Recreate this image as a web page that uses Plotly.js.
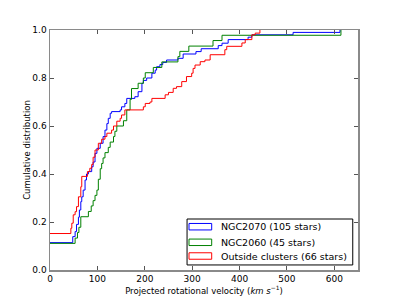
<!DOCTYPE html>
<html>
<head>
<meta charset="utf-8">
<script src="https://cdn.plot.ly/plotly-3.0.1.min.js"></script>
<style>
  body { margin: 0; background: #fff; }
  #chart { width: 400px; height: 300px; }
</style>
</head>
<body>
<div id="chart"></div>
<script>
// step points of the cumulative distributions: velocity (km/s) where each level starts
var ngc2070V = [0, 48, 53, 56, 60, 62, 65, 67, 70, 74, 77, 81, 88, 91, 95, 99, 106, 112, 116, 120, 123, 127, 130,
  148, 151, 158, 162, 179, 186, 194, 197, 204, 215, 222, 225, 232, 238, 246, 270, 281, 308, 319, 355, 363, 376,
  418, 426, 513, 612];
var ngc2070Cdf = [0.114, 0.139, 0.16, 0.19, 0.22, 0.25, 0.285, 0.305, 0.333, 0.375, 0.40, 0.41, 0.43, 0.45, 0.486,
  0.507, 0.528, 0.556, 0.583, 0.61, 0.632, 0.653, 0.66, 0.667, 0.68, 0.694, 0.715, 0.722, 0.743, 0.778, 0.79, 0.80,
  0.82, 0.833, 0.847, 0.856, 0.865, 0.875, 0.882, 0.90, 0.91, 0.922, 0.935, 0.945, 0.96, 0.97, 0.98, 0.99, 1.0];

var ngc2060V = [0, 53, 58, 61, 65, 81, 87, 91, 95, 99, 102, 106, 109, 112, 116, 123, 127, 134, 137, 141, 155, 162,
  169, 172, 186, 197, 201, 218, 236, 270, 274, 293, 344, 363, 614];
var ngc2060Cdf = [0.111, 0.133, 0.156, 0.178, 0.222, 0.244, 0.267, 0.289, 0.311, 0.333, 0.378, 0.422, 0.444, 0.467,
  0.489, 0.511, 0.533, 0.556, 0.578, 0.60, 0.622, 0.667, 0.711, 0.756, 0.778, 0.80, 0.822, 0.844, 0.867, 0.889,
  0.911, 0.933, 0.956, 0.978, 1.0];

var outsideV = [0, 44, 46, 49, 53, 56, 60, 65, 67, 79, 84, 88, 91, 95, 102, 109, 116, 120, 130, 134, 141, 148, 151,
  158, 197, 201, 211, 215, 243, 250, 260, 267, 278, 288, 299, 302, 306, 317, 327, 338, 369, 373, 405, 412, 426,
  433, 443];
var outsideCdf = [0.152, 0.174, 0.195, 0.23, 0.243, 0.264, 0.305, 0.347, 0.39, 0.41, 0.424, 0.44, 0.47, 0.50, 0.528,
  0.545, 0.556, 0.57, 0.583, 0.60, 0.62, 0.632, 0.646, 0.667, 0.68, 0.694, 0.70, 0.715, 0.73, 0.74, 0.757, 0.764,
  0.785, 0.806, 0.82, 0.84, 0.854, 0.868, 0.875, 0.897, 0.918, 0.932, 0.946, 0.96, 0.98, 0.987, 1.0];

var seriesNames = ["NGC2070 (105 stars)", "NGC2060 (45 stars)", "Outside clusters (66 stars)"];
var seriesColors = ["#0000ff", "#008000", "#ff0000"];
var xTicks = [0, 100, 200, 300, 400, 500, 600];
var yTicks = [0.0, 0.2, 0.4, 0.6, 0.8, 1.0];

function stepTrace(x, y, name, color) {
  return {
    x: x, y: y, name: name, type: "scatter", mode: "lines",
    line: {shape: "hv", color: color, width: 1}
  };
}

var data = [
  stepTrace(ngc2070V, ngc2070Cdf, seriesNames[0], seriesColors[0]),
  stepTrace(ngc2060V, ngc2060Cdf, seriesNames[1], seriesColors[1]),
  stepTrace(outsideV, outsideCdf, seriesNames[2], seriesColors[2])
];

// matplotlib-like legend box with rectangle handles (drawn in paper coords)
var shapes = [{
  type: "rect", xref: "paper", yref: "paper",
  x0: 0.445, x1: 0.983, y0: 0.021, y1: 0.2125,
  line: {color: "#000", width: 1}, fillcolor: "#fff"
}];
var annotations = [];
var rowY = [0.1804, 0.1154, 0.0583];
seriesNames.forEach(function (name, i) {
  shapes.push({
    type: "rect", xref: "paper", yref: "paper",
    x0: 0.4513, x1: 0.525, y0: rowY[i] - 0.0135, y1: rowY[i] + 0.0135,
    line: {color: seriesColors[i], width: 1}, fillcolor: "#fff"
  });
  annotations.push({
    xref: "paper", yref: "paper", x: 0.55, y: rowY[i],
    xanchor: "left", yanchor: "middle", showarrow: false,
    text: name, font: {size: 9.5, color: "#000"}
  });
});

var axisStyle = {
  showgrid: false, zeroline: false,
  showline: true, mirror: "ticks", linecolor: "#8a8a8a", linewidth: 1.5,
  ticks: "inside", ticklen: 4, tickcolor: "#555", tickwidth: 1,
  tickfont: {size: 9, color: "#000"}
};

var layout = {
  width: 400, height: 300,
  margin: {l: 50, r: 42, t: 30, b: 30},
  paper_bgcolor: "#fff", plot_bgcolor: "#fff",
  font: {family: "DejaVu Sans, sans-serif", color: "#000"},
  showlegend: false,
  shapes: shapes,
  annotations: annotations,
  xaxis: Object.assign({}, axisStyle, {
    range: [0, 650], tickvals: xTicks, automargin: false,
    title: {text: "Projected rotational velocity (<i>km s</i><sup>−1</sup>)", font: {size: 8.5}, standoff: 3}
  }),
  yaxis: Object.assign({}, axisStyle, {
    range: [0, 1], tickvals: yTicks, tickformat: ".1f", automargin: false,
    title: {text: "Cumulative distribution", font: {size: 8.5}, standoff: 0}
  })
};

Plotly.newPlot("chart", data, layout, {staticPlot: true});
</script>
</body>
</html>
